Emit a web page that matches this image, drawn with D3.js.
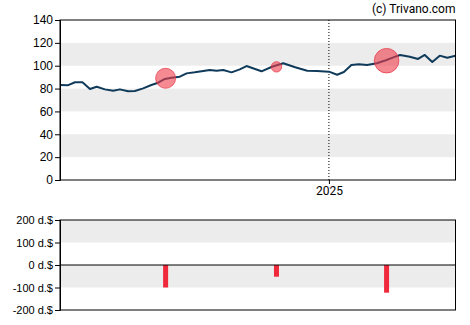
<!DOCTYPE html>
<html>
<head>
<meta charset="utf-8">
<script src="https://cdn.jsdelivr.net/npm/d3@7"></script>
<style>
  html, body { margin: 0; padding: 0; background: #fff; }
  svg { display: block; }
  .tick text { font-family: "Liberation Sans", Arial, sans-serif; fill: #000; }
</style>
</head>
<body>
<svg id="chart" width="470" height="325"></svg>
<script>
// Price series (date, close)
const priceDates = [
  "2024-01-08","2024-01-19","2024-01-28","2024-02-07","2024-02-17","2024-02-26",
  "2024-03-08","2024-03-19","2024-03-28","2024-04-08","2024-04-17","2024-04-28",
  "2024-05-09","2024-05-18","2024-05-27","2024-06-05","2024-06-16","2024-06-25",
  "2024-07-06","2024-07-15","2024-07-26","2024-08-04","2024-08-13","2024-08-24",
  "2024-09-04","2024-09-13","2024-10-03","2024-10-17","2024-11-01","2024-11-17",
  "2024-12-03","2024-12-16","2025-01-01","2025-01-12","2025-01-21","2025-01-31",
  "2025-02-10","2025-02-21","2025-03-06","2025-03-19","2025-03-28","2025-04-06",
  "2025-04-19","2025-04-30","2025-05-09","2025-05-19","2025-05-29","2025-06-08",
  "2025-06-19"
];
const priceValues = [
  83.1, 83.0, 85.5, 85.5, 79.6, 81.6,
  79.3, 78.1, 79.3, 77.6, 77.9, 80.2,
  83.1, 85.1, 88.4, 89.5, 90.4, 93.3,
  94.2, 95.1, 96.2, 95.6, 96.2, 94.2,
  96.8, 99.7, 95.1, 99.1, 102.1, 98.6,
  95.6, 95.4, 94.8, 92.1, 94.5, 100.6,
  101.2, 100.6, 102.1, 105.0, 107.3, 109.4,
  107.9, 105.9, 109.4, 103.2, 108.8, 107.0,
  108.8
];

// Insider transactions: date, price at the time, net amount (d.$)
const eventDates = ["2024-05-28", "2024-10-23", "2025-03-19"];
const eventPrices = [89.0, 99.0, 104.4];
const eventAmounts = [-100, -52, -123];

const priceTicks = [0, 20, 40, 60, 80, 100, 120, 140];
const amountTicks = [-200, -100, 0, 100, 200];
const yearTicks = ["2025-01-01"];
const xDomain = ["2024-01-08", "2025-06-19"];

const parse = d3.timeParse("%Y-%m-%d");
const svg = d3.select("#chart");

const left = 60, right = 455.5;
const x = d3.scaleTime().domain(xDomain.map(parse)).range([left, right]);

// ---------- price panel ----------
const top1 = 20, bottom1 = 180;
const y1 = d3.scaleLinear().domain([0, 140]).range([bottom1, top1]);

// alternating bands
const bands1 = [[20, 40], [60, 80], [100, 120]];
svg.append("g").selectAll("rect").data(bands1).join("rect")
  .attr("x", left).attr("width", right - left)
  .attr("y", d => y1(d[1])).attr("height", d => y1(d[0]) - y1(d[1]))
  .attr("fill", "#ececec");

// year marker
svg.append("g").selectAll("line").data(yearTicks).join("line")
  .attr("x1", d => x(parse(d))).attr("x2", d => x(parse(d)))
  .attr("y1", top1).attr("y2", bottom1)
  .attr("stroke", "#000").attr("stroke-width", 1).attr("stroke-dasharray", "1,2");

const series = priceDates.map((d, i) => ({ date: parse(d), value: priceValues[i] }));
svg.append("path").datum(series)
  .attr("fill", "none").attr("stroke", "#0f3a5a").attr("stroke-width", 2)
  .attr("stroke-linejoin", "round")
  .attr("d", d3.line().x(d => x(d.date)).y(d => y1(d.value)));

const rScale = d3.scaleLinear().domain([0, 100]).range([0, 10]);
const events = eventDates.map((d, i) => ({ date: parse(d), price: eventPrices[i], amount: eventAmounts[i] }));
svg.append("g").selectAll("circle").data(events).join("circle")
  .attr("cx", d => x(d.date)).attr("cy", d => y1(d.price))
  .attr("r", d => rScale(Math.abs(d.amount)))
  .attr("fill", "rgba(240,60,75,0.6)").attr("stroke", "rgba(230,50,65,0.7)").attr("stroke-width", 1);

// frame
svg.append("rect").attr("x", left).attr("y", top1).attr("width", right - left).attr("height", bottom1 - top1)
  .attr("fill", "none").attr("stroke", "#000").attr("stroke-width", 1);

const yAxis1 = svg.append("g").attr("transform", `translate(${left},0)`)
  .call(d3.axisLeft(y1).tickValues(priceTicks).tickSize(5).tickPadding(2));
yAxis1.select(".domain").attr("stroke", "#000");
yAxis1.selectAll("text").style("font-size", "12px");

const xAxis1 = svg.append("g").attr("transform", `translate(0,${bottom1})`)
  .call(d3.axisBottom(x).tickValues(yearTicks.map(parse)).tickFormat(d3.timeFormat("%Y")).tickSize(4).tickPadding(2));
xAxis1.select(".domain").remove();
xAxis1.selectAll("text").style("font-size", "12px").style("font-family", "Roboto, sans-serif");

svg.append("text").attr("x", right).attr("y", 13).attr("text-anchor", "end")
  .style("font-family", "Roboto, sans-serif").style("font-size", "12px").attr("fill", "#000")
  .text("(c) Trivano.com");

// ---------- transactions panel ----------
const top2 = 220, bottom2 = 310;
const y2 = d3.scaleLinear().domain([-200, 200]).range([bottom2, top2]);

const bands2 = [[-100, 0], [100, 200]];
svg.append("g").selectAll("rect").data(bands2).join("rect")
  .attr("x", left).attr("width", right - left)
  .attr("y", d => y2(d[1])).attr("height", d => y2(d[0]) - y2(d[1]))
  .attr("fill", "#ececec");

const barW = 5;
svg.append("g").selectAll("rect").data(events).join("rect")
  .attr("x", d => x(d.date) - barW / 2).attr("width", barW)
  .attr("y", d => y2(Math.max(0, d.amount)))
  .attr("height", d => Math.abs(y2(d.amount) - y2(0)))
  .attr("fill", "#f0283c");

svg.append("line").attr("x1", left).attr("x2", right).attr("y1", y2(0)).attr("y2", y2(0))
  .attr("stroke", "#000").attr("stroke-width", 1);

svg.append("rect").attr("x", left).attr("y", top2).attr("width", right - left).attr("height", bottom2 - top2)
  .attr("fill", "none").attr("stroke", "#000").attr("stroke-width", 1);

const yAxis2 = svg.append("g").attr("transform", `translate(${left},0)`)
  .call(d3.axisLeft(y2).tickValues(amountTicks).tickFormat(d => d + " d.$").tickSize(5).tickPadding(2));
yAxis2.select(".domain").attr("stroke", "#000");
yAxis2.selectAll("text").style("font-size", "11px");
</script>
</body>
</html>
